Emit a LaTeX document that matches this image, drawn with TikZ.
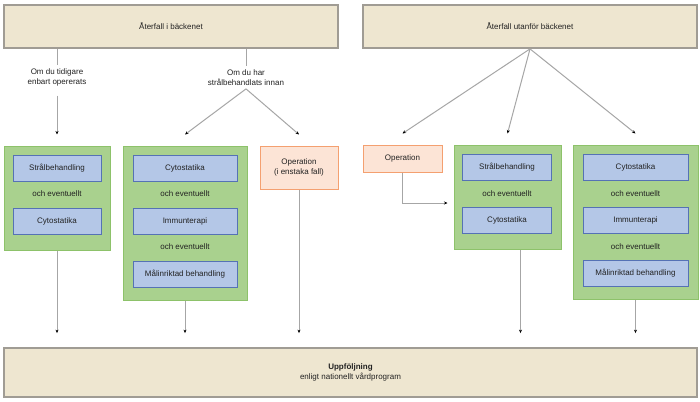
\documentclass[tikz,border=0pt]{standalone}
\usepackage{fontspec}
\setmainfont{Liberation Sans}
\usetikzlibrary{arrows.meta,positioning}
\definecolor{beige}{HTML}{EEE6D0}
\definecolor{framegray}{HTML}{A09C94}
\definecolor{greenfill}{HTML}{A9D18E}
\definecolor{greenline}{HTML}{8DC26A}
\definecolor{bluefill}{HTML}{B4C7E7}
\definecolor{blueline}{HTML}{5572B5}
\definecolor{orangefill}{HTML}{FCE4D6}
\definecolor{orangeline}{HTML}{F4A070}
\definecolor{linegray}{HTML}{A6A6A6}
\definecolor{textdark}{HTML}{222222}
\tikzset{
  every node/.style={font=\fontsize{8}{10.5}\selectfont, text=textdark},
  topbox/.style={draw=framegray, line width=1.8pt, fill=beige, minimum height=43pt, inner sep=0pt, align=center},
  group/.style={draw=greenline, line width=1pt, fill=greenfill, inner sep=0pt},
  treat/.style={draw=blueline, line width=1pt, fill=bluefill, minimum height=26pt, inner sep=0pt},
  opbox/.style={draw=orangeline, line width=1pt, fill=orangefill, inner sep=0pt, align=center},
  note/.style={align=center, inner sep=3pt},
  plain/.style={draw=linegray, line width=1pt},
  link/.style={plain, -{Stealth[length=3.5pt,width=3pt,black]}}
}
\begin{document}
\begin{tikzpicture}[x=1pt,y=-1pt]
  \useasboundingbox[fill=white] (0,0) rectangle (700,401);
  % top and bottom boxes
  \node[topbox, minimum width=334] (pelvis) at (171,26.5) {Återfall i bäckenet};
  \node[topbox, minimum width=334] (outside) at (530,26.5) {Återfall utanför bäckenet};
  \node[topbox, minimum width=693, minimum height=49] (followup) at (350.5,372.5)
    {\textbf{Uppföljning}\\enligt nationellt vårdprogram};

  % left branch
  \node[note] (onlyop) at (57,77.5) {Om du tidigare\\enbart opererats};
  \node[note] (radiated) at (246,77.5) {Om du har\\strålbehandlats innan};

  \node[group, minimum width=106, minimum height=104] (g1) at (57,198) {};
  \node[treat, minimum width=88] (g1a) at (57,168) {Strålbehandling};
  \node (g1o) at (57,194) {och eventuellt};
  \node[treat, minimum width=88] (g1b) at (57,221.5) {Cytostatika};

  \node[group, minimum width=124, minimum height=154] (g2) at (185,223) {};
  \node[treat, minimum width=104] (g2a) at (185,168) {Cytostatika};
  \node (g2o) at (185,194) {och eventuellt};
  \node[treat, minimum width=104] (g2b) at (185,221) {Immunterapi};
  \node (g2p) at (185,247) {och eventuellt};
  \node[treat, minimum width=104] (g2c) at (185,274) {Målinriktad behandling};

  \node[opbox, minimum width=78, minimum height=43] (op1) at (299,167.5) {Operation\\(i enstaka fall)};

  % right branch
  \node[opbox, minimum width=79, minimum height=27] (op2) at (402.5,158.5) {Operation};

  \node[group, minimum width=107, minimum height=104] (g3) at (507.5,197) {};
  \node[treat, minimum width=89] (g3a) at (507,167) {Strålbehandling};
  \node (g3o) at (507,194) {och eventuellt};
  \node[treat, minimum width=89] (g3b) at (507,220) {Cytostatika};

  \node[group, minimum width=125, minimum height=154] (g4) at (635.5,222) {};
  \node[treat, minimum width=105] (g4a) at (635.5,167) {Cytostatika};
  \node (g4o) at (635.5,194) {och eventuellt};
  \node[treat, minimum width=105] (g4b) at (635.5,220) {Immunterapi};
  \node (g4p) at (635.5,247) {och eventuellt};
  \node[treat, minimum width=105] (g4c) at (635.5,273) {Målinriktad behandling};

  % connectors
  \draw[plain] (pelvis.south -| onlyop.north) -- (onlyop.north);
  \draw[plain] (pelvis.south -| radiated.north) -- (radiated.north);
  \draw[link, shorten <=6pt] (onlyop.south) -- ([yshift=11pt]g1.north);
  \draw[link] (radiated.south) -- ([yshift=11pt]g2.north);
  \draw[link] (radiated.south) -- ([yshift=11pt]op1.north);
  \draw[link] (outside.south) -- ([yshift=11pt]op2.north);
  \draw[link] (outside.south) -- ([yshift=11pt]g3.north);
  \draw[link] (outside.south) -- ([yshift=11pt]g4.north);
  \draw[link, shorten >=6pt] (op2.south) |- ([yshift=-6pt]g3.west);

  \draw[link, shorten >=14pt] (g1.south) -- (g1.south |- followup.north);
  \draw[link, shorten >=14pt] (g2.south) -- (g2.south |- followup.north);
  \draw[link, shorten >=14pt] (op1.south) -- (op1.south |- followup.north);
  \draw[link, shorten >=14pt] ([xshift=13pt]g3.south) -- ([xshift=13pt]g3.south |- followup.north);
  \draw[link, shorten >=14pt] (g4.south) -- (g4.south |- followup.north);
\end{tikzpicture}
\end{document}
